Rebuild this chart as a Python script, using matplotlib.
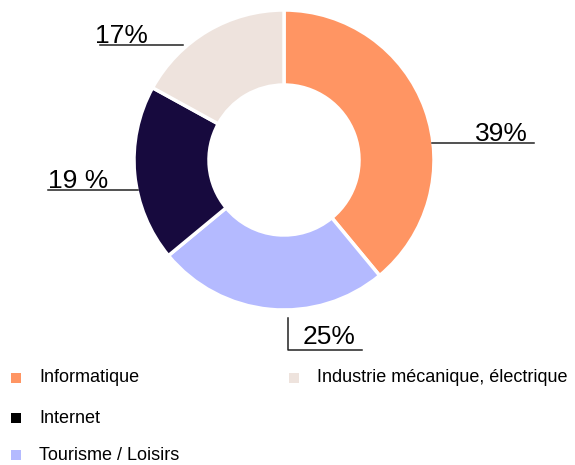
import matplotlib.pyplot as plt
import matplotlib.patches as mpatches
from matplotlib.lines import Line2D

plt.rcParams['font.family'] = ['Liberation Sans', 'DejaVu Sans']

W, H = 575, 465

categories = ["Informatique", "Tourisme / Loisirs", "Internet", "Industrie mécanique, électrique"]
shares     = [39, 25, 19, 17]
labels     = ["39%", "25%", "19 %", "17%"]
colors     = ["#FF9563", "#B4BAFF", "#170A3E", "#EEE3DD"]
legend_colors = ["#FF9563", "#B4BAFF", "#000000", "#EEE3DD"]

fig = plt.figure(figsize=(W / 100, H / 100), dpi=100)

# donut centred at (284, 160) px from top, radius 150 px
cx, cy, r = 284, 160, 150
ax = fig.add_axes(((cx - r) / W, (H - cy - r) / H, 2 * r / W, 2 * r / H))
ax.pie(shares, colors=colors, startangle=90, counterclock=False, radius=1,
       wedgeprops=dict(width=0.5, edgecolor="white", linewidth=2.5))
ax.set_xlim(-1, 1)
ax.set_ylim(-1, 1)
ax.set_axis_off()


def px(x, y):
    return x / W, 1 - y / H


def leader(xs, ys):
    fx = [x / W for x in xs]
    fy = [1 - y / H for y in ys]
    fig.add_artist(Line2D(fx, fy, color="#222222", linewidth=1.1, transform=fig.transFigure))


# value labels with leader lines
label_pos = [(528, 141, "right"), (355, 344, "right"), (108, 188, "right"), (148, 43, "right")]
for (x, y, ha), txt in zip(label_pos, labels):
    fig.text(*px(x, y), txt, fontsize=19, ha=ha, va="baseline", color="black")

leader([432, 534], [143, 143])
leader([288, 288, 362], [318, 350, 350])
leader([48, 138], [190, 190])
leader([100, 183], [45, 45])

# legend, drawn by hand to keep the reference layout
legend_order = [0, 2, 1, 3]
legend_pos = [(11, 378), (11, 418), (11, 455), (289, 378)]
for idx, (x, y) in zip(legend_order, legend_pos):
    fig.add_artist(mpatches.Rectangle(((x) / W, 1 - (y + 5) / H), 10 / W, 10 / H,
                                      facecolor=legend_colors[idx], edgecolor="none",
                                      transform=fig.transFigure))
    fig.text((x + 28) / W, 1 - y / H, categories[idx], fontsize=13,
             ha="left", va="center", color="black")

fig.savefig("out.png", dpi=100)
